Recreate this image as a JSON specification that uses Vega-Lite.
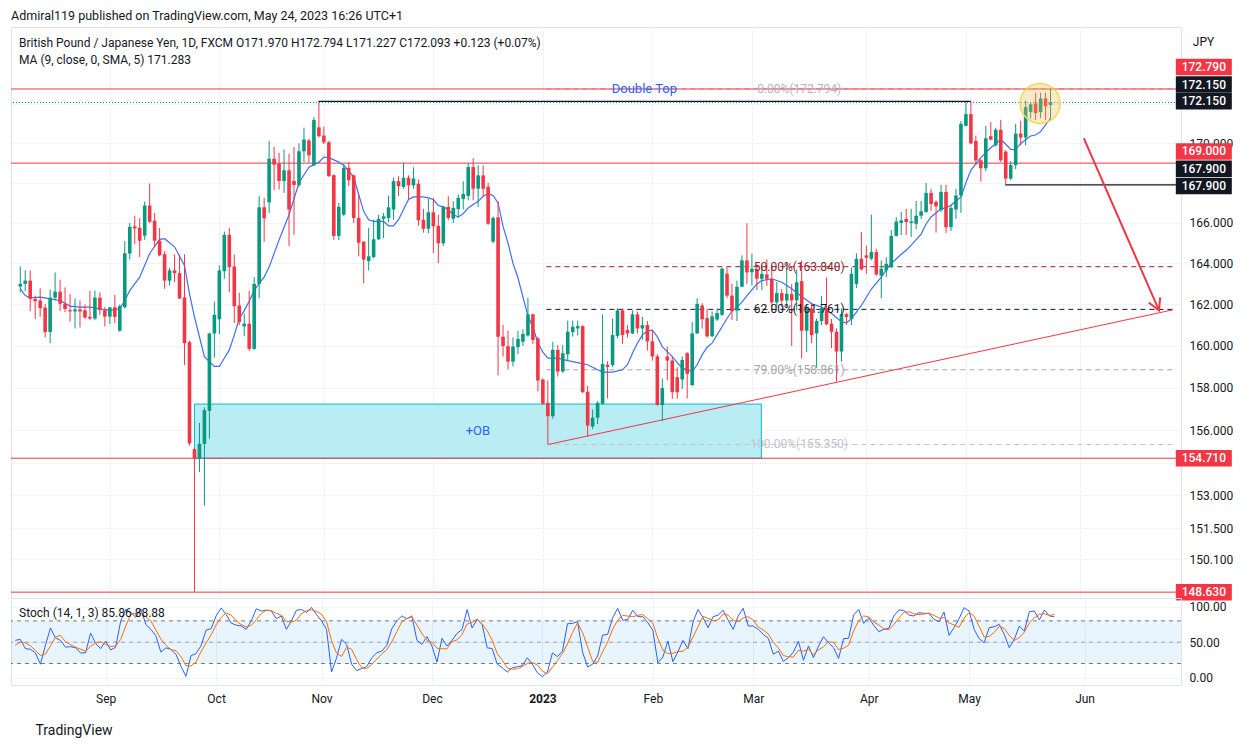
{
  "$schema": "https://vega.github.io/schema/vega-lite/v6.json",
  "background": "white",
  "padding": {"left": 10, "top": 10, "right": 10, "bottom": 4},
  "title": {
    "text": "Admiral119 published on TradingView.com, May 24, 2023 16:26 UTC+1",
    "anchor": "start", "frame": "group", "fontSize": 12.5, "fontWeight": "normal",
    "color": "#131722", "offset": 4
  },
  "spacing": 0,
  "bounds": "flush",
  "datasets": {
    "bars": [
      {"i":1,"t":"2022-08-08","o":162.87,"h":163.85,"l":162.59,"c":163.0,"sk":52.6,"sd":46},
      {"i":2,"t":"2022-08-09","o":163.0,"h":163.66,"l":162.64,"c":163.16,"sk":54,"sd":50},
      {"i":3,"t":"2022-08-10","o":163.16,"h":163.66,"l":161.68,"c":162.27,"sk":41,"sd":49.2},
      {"i":4,"t":"2022-08-11","o":162.27,"h":162.43,"l":161.3,"c":162.16,"sk":40,"sd":45},
      {"i":5,"t":"2022-08-12","o":162.19,"h":162.78,"l":161.4,"c":161.82,"sk":35,"sd":38.7},
      {"i":6,"t":"2022-08-15","o":161.85,"h":162.03,"l":160.4,"c":160.67,"sk":19,"sd":31.3},
      {"i":7,"t":"2022-08-16","o":160.67,"h":162.72,"l":160.13,"c":162.33,"sk":45.5,"sd":33.2},
      {"i":8,"t":"2022-08-17","o":162.33,"h":163.56,"l":162.19,"c":162.62,"sk":70,"sd":44.8},
      {"i":9,"t":"2022-08-18","o":162.62,"h":163.2,"l":161.68,"c":162.03,"sk":56,"sd":57.2},
      {"i":10,"t":"2022-08-19","o":162.03,"h":162.83,"l":161.63,"c":161.78,"sk":52.6,"sd":59.5},
      {"i":11,"t":"2022-08-22","o":161.72,"h":162.5,"l":161.16,"c":161.66,"sk":43,"sd":50.5},
      {"i":12,"t":"2022-08-23","o":161.66,"h":162.3,"l":160.84,"c":161.76,"sk":43.7,"sd":46.4},
      {"i":13,"t":"2022-08-24","o":161.76,"h":162.19,"l":160.89,"c":161.66,"sk":42,"sd":42.9},
      {"i":14,"t":"2022-08-25","o":161.72,"h":162.0,"l":161.3,"c":161.37,"sk":35,"sd":40.2},
      {"i":15,"t":"2022-08-26","o":161.4,"h":162.67,"l":161.24,"c":161.32,"sk":35,"sd":37.3},
      {"i":16,"t":"2022-08-29","o":161.32,"h":162.67,"l":161.24,"c":162.33,"sk":63,"sd":44.3},
      {"i":17,"t":"2022-08-30","o":162.33,"h":162.59,"l":161.49,"c":161.72,"sk":48,"sd":48.7},
      {"i":18,"t":"2022-08-31","o":161.72,"h":161.87,"l":160.94,"c":161.41,"sk":41,"sd":50.7},
      {"i":19,"t":"2022-09-01","o":161.41,"h":161.87,"l":161.05,"c":161.86,"sk":51.6,"sd":46.9},
      {"i":20,"t":"2022-09-02","o":161.86,"h":162.46,"l":161.1,"c":161.4,"sk":39,"sd":43.9},
      {"i":21,"t":"2022-09-05","o":160.73,"h":162.0,"l":160.68,"c":161.92,"sk":43,"sd":44.5},
      {"i":22,"t":"2022-09-06","o":161.87,"h":165.1,"l":161.8,"c":164.5,"sk":80,"sd":54},
      {"i":23,"t":"2022-09-07","o":164.49,"h":166.0,"l":164.2,"c":165.81,"sk":96,"sd":73},
      {"i":24,"t":"2022-09-08","o":165.83,"h":166.36,"l":164.94,"c":165.73,"sk":92,"sd":89.3},
      {"i":25,"t":"2022-09-09","o":165.76,"h":166.24,"l":164.32,"c":165.12,"sk":85,"sd":91},
      {"i":26,"t":"2022-09-12","o":165.37,"h":167.07,"l":165.16,"c":166.87,"sk":97,"sd":91.3},
      {"i":27,"t":"2022-09-13","o":166.87,"h":167.97,"l":166.0,"c":166.06,"sk":75,"sd":85.7},
      {"i":28,"t":"2022-09-14","o":166.11,"h":166.5,"l":164.8,"c":165.12,"sk":68,"sd":80},
      {"i":29,"t":"2022-09-15","o":165.12,"h":165.75,"l":164.35,"c":164.4,"sk":59,"sd":67.3},
      {"i":30,"t":"2022-09-16","o":164.45,"h":164.6,"l":162.76,"c":163.16,"sk":36,"sd":54.3},
      {"i":31,"t":"2022-09-19","o":163.16,"h":163.79,"l":162.92,"c":163.66,"sk":42,"sd":45.7},
      {"i":32,"t":"2022-09-20","o":163.66,"h":164.45,"l":163.08,"c":163.52,"sk":40,"sd":39.3},
      {"i":33,"t":"2022-09-21","o":163.52,"h":164.44,"l":162.26,"c":162.29,"sk":33,"sd":38.3},
      {"i":34,"t":"2022-09-22","o":162.34,"h":164.45,"l":159.09,"c":160.13,"sk":16,"sd":29.7},
      {"i":35,"t":"2022-09-23","o":160.18,"h":160.25,"l":155.3,"c":155.4,"sk":2,"sd":17},
      {"i":36,"t":"2022-09-26","o":155.13,"h":155.2,"l":148.63,"c":154.71,"sk":31,"sd":16.3},
      {"i":37,"t":"2022-09-27","o":154.71,"h":156.36,"l":154.07,"c":155.38,"sk":34,"sd":22.3},
      {"i":38,"t":"2022-09-28","o":155.38,"h":157.08,"l":152.53,"c":156.95,"sk":45,"sd":36.7},
      {"i":39,"t":"2022-09-29","o":156.92,"h":160.63,"l":155.61,"c":160.6,"sk":67,"sd":48.7},
      {"i":40,"t":"2022-09-30","o":160.6,"h":162.14,"l":159.44,"c":161.5,"sk":69,"sd":60.3},
      {"i":41,"t":"2022-10-03","o":161.28,"h":163.9,"l":160.57,"c":163.66,"sk":87,"sd":74.3},
      {"i":42,"t":"2022-10-04","o":163.62,"h":165.57,"l":163.25,"c":165.41,"sk":98,"sd":84.7},
      {"i":43,"t":"2022-10-05","o":165.41,"h":165.75,"l":162.59,"c":163.82,"sk":89,"sd":91.3},
      {"i":44,"t":"2022-10-06","o":163.85,"h":164.44,"l":161.1,"c":161.92,"sk":77,"sd":88},
      {"i":45,"t":"2022-10-07","o":161.95,"h":162.57,"l":161.0,"c":161.15,"sk":74,"sd":80},
      {"i":46,"t":"2022-10-10","o":160.94,"h":161.56,"l":160.48,"c":161.07,"sk":73,"sd":74.7},
      {"i":47,"t":"2022-10-11","o":161.07,"h":162.67,"l":159.76,"c":159.86,"sk":68,"sd":71.7},
      {"i":48,"t":"2022-10-12","o":159.86,"h":163.33,"l":159.81,"c":163.0,"sk":80,"sd":73.7},
      {"i":49,"t":"2022-10-13","o":163.0,"h":167.34,"l":162.3,"c":166.78,"sk":97,"sd":81.7},
      {"i":50,"t":"2022-10-14","o":166.78,"h":167.25,"l":165.07,"c":166.23,"sk":94,"sd":90.3},
      {"i":51,"t":"2022-10-17","o":167.03,"h":170.12,"l":166.5,"c":169.22,"sk":95,"sd":95.3},
      {"i":52,"t":"2022-10-18","o":169.22,"h":169.82,"l":167.64,"c":168.92,"sk":94,"sd":94.3},
      {"i":53,"t":"2022-10-19","o":168.97,"h":169.52,"l":167.67,"c":168.1,"sk":83,"sd":90.7},
      {"i":54,"t":"2022-10-20","o":168.1,"h":169.69,"l":167.5,"c":168.64,"sk":87,"sd":88},
      {"i":55,"t":"2022-10-21","o":168.64,"h":169.48,"l":164.86,"c":166.67,"sk":68,"sd":79.3},
      {"i":56,"t":"2022-10-24","o":168.1,"h":169.82,"l":165.41,"c":167.9,"sk":80,"sd":78.3},
      {"i":57,"t":"2022-10-25","o":167.9,"h":170.0,"l":167.8,"c":169.6,"sk":95,"sd":81},
      {"i":58,"t":"2022-10-26","o":169.6,"h":170.8,"l":169.05,"c":170.2,"sk":96,"sd":90.3},
      {"i":59,"t":"2022-10-27","o":170.15,"h":170.24,"l":169.02,"c":169.4,"sk":92,"sd":94.3},
      {"i":60,"t":"2022-10-28","o":168.9,"h":171.34,"l":168.85,"c":171.2,"sk":99,"sd":95.7},
      {"i":61,"t":"2022-10-31","o":170.82,"h":172.11,"l":170.3,"c":170.37,"sk":89,"sd":93.3},
      {"i":62,"t":"2022-11-01","o":170.4,"h":170.86,"l":169.97,"c":170.06,"sk":80,"sd":89.3},
      {"i":63,"t":"2022-11-02","o":170.06,"h":170.13,"l":168.31,"c":168.34,"sk":68,"sd":79},
      {"i":64,"t":"2022-11-03","o":168.39,"h":168.44,"l":165.16,"c":165.36,"sk":8,"sd":52},
      {"i":65,"t":"2022-11-04","o":165.36,"h":167.0,"l":165.16,"c":166.8,"sk":28,"sd":34.7},
      {"i":66,"t":"2022-11-07","o":166.41,"h":168.92,"l":166.35,"c":168.76,"sk":54,"sd":30},
      {"i":67,"t":"2022-11-08","o":168.76,"h":169.06,"l":167.84,"c":168.14,"sk":47,"sd":43},
      {"i":68,"t":"2022-11-09","o":168.38,"h":168.43,"l":166.0,"c":166.25,"sk":19,"sd":40},
      {"i":69,"t":"2022-11-10","o":166.25,"h":167.38,"l":164.35,"c":165.02,"sk":10,"sd":25.3},
      {"i":70,"t":"2022-11-11","o":165.07,"h":165.1,"l":163.03,"c":164.19,"sk":13,"sd":14},
      {"i":71,"t":"2022-11-14","o":164.12,"h":165.75,"l":163.66,"c":164.35,"sk":15.5,"sd":12.8},
      {"i":72,"t":"2022-11-15","o":164.32,"h":166.16,"l":164.25,"c":165.19,"sk":28,"sd":18.8},
      {"i":73,"t":"2022-11-16","o":165.19,"h":166.41,"l":165.16,"c":166.21,"sk":35,"sd":26.2},
      {"i":74,"t":"2022-11-17","o":166.21,"h":166.5,"l":165.24,"c":166.33,"sk":37.5,"sd":33.5},
      {"i":75,"t":"2022-11-18","o":166.25,"h":167.37,"l":166.03,"c":166.78,"sk":45.5,"sd":39.3},
      {"i":76,"t":"2022-11-21","o":166.67,"h":168.26,"l":166.16,"c":168.09,"sk":69,"sd":50.7},
      {"i":77,"t":"2022-11-22","o":168.09,"h":168.34,"l":167.34,"c":167.84,"sk":80,"sd":64.8},
      {"i":78,"t":"2022-11-23","o":167.8,"h":169.02,"l":167.71,"c":168.26,"sk":87,"sd":78.7},
      {"i":79,"t":"2022-11-24","o":168.26,"h":168.38,"l":167.2,"c":167.88,"sk":83,"sd":83.3},
      {"i":80,"t":"2022-11-25","o":167.88,"h":168.79,"l":167.71,"c":168.22,"sk":87,"sd":85.7},
      {"i":81,"t":"2022-11-28","o":167.96,"h":168.17,"l":165.86,"c":166.13,"sk":52.6,"sd":74.2},
      {"i":82,"t":"2022-11-29","o":166.16,"h":166.7,"l":165.52,"c":165.71,"sk":47,"sd":62.2},
      {"i":83,"t":"2022-11-30","o":165.71,"h":167.2,"l":165.49,"c":166.53,"sk":58,"sd":52.5},
      {"i":84,"t":"2022-12-01","o":166.53,"h":167.25,"l":164.52,"c":165.83,"sk":44.6,"sd":49.9},
      {"i":85,"t":"2022-12-02","o":165.86,"h":166.41,"l":164.02,"c":164.99,"sk":22,"sd":41.5},
      {"i":86,"t":"2022-12-05","o":164.99,"h":166.83,"l":164.86,"c":166.8,"sk":55.4,"sd":40.7},
      {"i":87,"t":"2022-12-06","o":166.8,"h":167.34,"l":166.13,"c":166.25,"sk":44.6,"sd":40.7},
      {"i":88,"t":"2022-12-07","o":166.21,"h":167.08,"l":166.0,"c":166.75,"sk":52.6,"sd":50.9},
      {"i":89,"t":"2022-12-08","o":166.7,"h":167.42,"l":166.25,"c":167.25,"sk":62.4,"sd":53.2},
      {"i":90,"t":"2022-12-09","o":167.2,"h":168.09,"l":166.67,"c":167.45,"sk":68,"sd":61},
      {"i":91,"t":"2022-12-12","o":167.35,"h":169.02,"l":167.13,"c":168.8,"sk":96,"sd":75.5},
      {"i":92,"t":"2022-12-13","o":168.8,"h":169.25,"l":167.13,"c":167.71,"sk":70,"sd":78},
      {"i":93,"t":"2022-12-14","o":167.71,"h":168.88,"l":166.8,"c":168.38,"sk":82,"sd":82.7},
      {"i":94,"t":"2022-12-15","o":168.38,"h":168.88,"l":167.34,"c":167.71,"sk":75,"sd":75.7},
      {"i":95,"t":"2022-12-16","o":167.81,"h":168.01,"l":165.9,"c":165.96,"sk":42,"sd":66.3},
      {"i":96,"t":"2022-12-19","o":165.07,"h":166.33,"l":165.0,"c":166.25,"sk":41,"sd":52.7},
      {"i":97,"t":"2022-12-20","o":166.28,"h":167.08,"l":158.6,"c":160.44,"sk":19,"sd":34},
      {"i":98,"t":"2022-12-21","o":160.44,"h":161.01,"l":159.49,"c":159.99,"sk":14,"sd":24.7},
      {"i":99,"t":"2022-12-22","o":159.99,"h":160.73,"l":158.87,"c":159.25,"sk":8,"sd":13.7},
      {"i":100,"t":"2022-12-23","o":159.25,"h":160.41,"l":159.02,"c":159.97,"sk":14,"sd":12},
      {"i":101,"t":"2022-12-26","o":159.94,"h":160.73,"l":159.6,"c":160.34,"sk":15.5,"sd":12.5},
      {"i":102,"t":"2022-12-27","o":160.2,"h":160.8,"l":160.0,"c":160.57,"sk":17,"sd":15.5},
      {"i":103,"t":"2022-12-28","o":160.5,"h":162.32,"l":160.45,"c":161.52,"sk":28,"sd":20.2},
      {"i":104,"t":"2022-12-29","o":161.52,"h":161.55,"l":160.1,"c":160.29,"sk":19,"sd":21.3},
      {"i":105,"t":"2022-12-30","o":160.36,"h":160.44,"l":157.84,"c":158.35,"sk":7,"sd":18},
      {"i":106,"t":"2023-01-02","o":158.4,"h":158.45,"l":157.2,"c":157.25,"sk":1.4,"sd":9.1},
      {"i":107,"t":"2023-01-03","o":157.3,"h":158.35,"l":155.35,"c":156.67,"sk":8,"sd":5.5},
      {"i":108,"t":"2023-01-04","o":156.67,"h":160.2,"l":156.55,"c":159.81,"sk":35,"sd":14.8},
      {"i":109,"t":"2023-01-05","o":159.81,"h":160.04,"l":158.54,"c":158.78,"sk":29.6,"sd":24.2},
      {"i":110,"t":"2023-01-06","o":158.78,"h":160.04,"l":158.7,"c":159.65,"sk":37.5,"sd":34},
      {"i":111,"t":"2023-01-09","o":159.6,"h":161.22,"l":159.28,"c":160.68,"sk":76,"sd":47.7},
      {"i":112,"t":"2023-01-10","o":160.66,"h":161.22,"l":160.45,"c":160.92,"sk":76.5,"sd":63.3},
      {"i":113,"t":"2023-01-11","o":160.84,"h":161.22,"l":160.5,"c":160.95,"sk":79,"sd":77.2},
      {"i":114,"t":"2023-01-12","o":160.95,"h":161.0,"l":157.75,"c":157.8,"sk":36,"sd":63.8},
      {"i":115,"t":"2023-01-13","o":157.82,"h":158.1,"l":155.7,"c":156.23,"sk":15,"sd":43.3},
      {"i":116,"t":"2023-01-16","o":156.19,"h":156.98,"l":156.07,"c":156.6,"sk":19,"sd":23.3},
      {"i":117,"t":"2023-01-17","o":156.6,"h":157.38,"l":156.3,"c":157.3,"sk":30.5,"sd":21.5},
      {"i":118,"t":"2023-01-18","o":157.25,"h":161.52,"l":157.2,"c":159.14,"sk":60,"sd":36.5},
      {"i":119,"t":"2023-01-19","o":159.1,"h":159.27,"l":157.5,"c":159.0,"sk":61,"sd":50.5},
      {"i":120,"t":"2023-01-20","o":159.09,"h":161.32,"l":159.0,"c":160.52,"sk":84.5,"sd":68.5},
      {"i":121,"t":"2023-01-23","o":160.48,"h":161.82,"l":160.36,"c":161.71,"sk":97.7,"sd":81.1},
      {"i":122,"t":"2023-01-24","o":161.71,"h":161.8,"l":160.1,"c":160.52,"sk":80.8,"sd":87.7},
      {"i":123,"t":"2023-01-25","o":160.76,"h":161.0,"l":160.4,"c":160.6,"sk":82,"sd":86.8},
      {"i":124,"t":"2023-01-26","o":160.6,"h":161.71,"l":160.57,"c":161.52,"sk":95,"sd":85.9},
      {"i":125,"t":"2023-01-27","o":161.52,"h":161.65,"l":160.6,"c":160.84,"sk":86,"sd":87.7},
      {"i":126,"t":"2023-01-30","o":160.84,"h":161.4,"l":160.3,"c":161.0,"sk":86,"sd":89},
      {"i":127,"t":"2023-01-31","o":161.0,"h":161.2,"l":159.78,"c":160.22,"sk":77.5,"sd":83.2},
      {"i":128,"t":"2023-02-01","o":160.22,"h":160.76,"l":159.3,"c":159.5,"sk":66.7,"sd":76.7},
      {"i":129,"t":"2023-02-02","o":159.5,"h":159.6,"l":157.16,"c":157.2,"sk":21,"sd":55.1},
      {"i":130,"t":"2023-02-03","o":157.2,"h":158.45,"l":156.43,"c":157.99,"sk":29,"sd":38.9},
      {"i":131,"t":"2023-02-06","o":159.5,"h":159.97,"l":158.36,"c":159.3,"sk":51.6,"sd":33.9},
      {"i":132,"t":"2023-02-07","o":159.3,"h":159.5,"l":157.48,"c":157.8,"sk":22.5,"sd":34.4},
      {"i":133,"t":"2023-02-08","o":158.51,"h":158.98,"l":157.5,"c":157.8,"sk":36.6,"sd":36.9},
      {"i":134,"t":"2023-02-09","o":158.4,"h":159.5,"l":157.95,"c":159.33,"sk":52.6,"sd":37.2},
      {"i":135,"t":"2023-02-10","o":159.65,"h":159.7,"l":157.5,"c":158.67,"sk":40.8,"sd":43.3},
      {"i":136,"t":"2023-02-13","o":158.13,"h":161.15,"l":158.1,"c":160.6,"sk":78.4,"sd":57.3},
      {"i":137,"t":"2023-02-14","o":160.6,"h":162.3,"l":160.57,"c":162.03,"sk":96,"sd":71.7},
      {"i":138,"t":"2023-02-15","o":161.95,"h":162.06,"l":160.84,"c":161.28,"sk":84.5,"sd":86.3},
      {"i":139,"t":"2023-02-16","o":161.34,"h":161.8,"l":160.4,"c":160.46,"sk":70.4,"sd":83.6},
      {"i":140,"t":"2023-02-17","o":160.47,"h":161.66,"l":160.42,"c":161.42,"sk":86,"sd":80.3},
      {"i":141,"t":"2023-02-20","o":161.27,"h":161.8,"l":161.2,"c":161.58,"sk":88,"sd":81.5},
      {"i":142,"t":"2023-02-21","o":161.5,"h":163.8,"l":161.45,"c":163.74,"sk":95,"sd":89.7},
      {"i":143,"t":"2023-02-22","o":163.5,"h":163.8,"l":162.3,"c":162.43,"sk":81,"sd":88},
      {"i":144,"t":"2023-02-23","o":162.43,"h":163.0,"l":161.24,"c":161.68,"sk":68,"sd":81.3},
      {"i":145,"t":"2023-02-24","o":161.7,"h":163.16,"l":161.2,"c":162.86,"sk":87,"sd":78.7},
      {"i":146,"t":"2023-02-27","o":162.86,"h":164.4,"l":162.84,"c":164.15,"sk":97.7,"sd":84.2},
      {"i":147,"t":"2023-02-28","o":164.15,"h":165.98,"l":163.0,"c":163.56,"sk":72.8,"sd":85.8},
      {"i":148,"t":"2023-03-01","o":163.57,"h":164.48,"l":162.92,"c":163.74,"sk":72.8,"sd":81.1},
      {"i":149,"t":"2023-03-02","o":163.7,"h":163.95,"l":162.7,"c":163.25,"sk":68,"sd":71.2},
      {"i":150,"t":"2023-03-03","o":163.25,"h":163.9,"l":162.7,"c":163.49,"sk":61,"sd":67.3},
      {"i":151,"t":"2023-03-06","o":163.46,"h":164.2,"l":162.9,"c":163.25,"sk":55.4,"sd":61.5},
      {"i":152,"t":"2023-03-07","o":163.25,"h":163.82,"l":161.87,"c":162.1,"sk":33,"sd":49.8},
      {"i":153,"t":"2023-03-08","o":162.1,"h":163.1,"l":161.9,"c":162.55,"sk":37.5,"sd":42},
      {"i":154,"t":"2023-03-09","o":162.55,"h":162.75,"l":161.87,"c":162.19,"sk":23,"sd":31.2},
      {"i":155,"t":"2023-03-10","o":162.19,"h":164.06,"l":161.87,"c":162.52,"sk":28,"sd":29.5},
      {"i":156,"t":"2023-03-13","o":162.5,"h":163.0,"l":160.0,"c":162.2,"sk":36,"sd":29},
      {"i":157,"t":"2023-03-14","o":162.2,"h":163.7,"l":161.7,"c":163.08,"sk":51.6,"sd":38.5},
      {"i":158,"t":"2023-03-15","o":163.13,"h":164.15,"l":159.4,"c":160.73,"sk":24.4,"sd":37.3},
      {"i":159,"t":"2023-03-16","o":160.73,"h":162.03,"l":159.7,"c":161.8,"sk":44.6,"sd":40.2},
      {"i":160,"t":"2023-03-17","o":161.8,"h":162.1,"l":160.13,"c":160.52,"sk":28,"sd":32.3},
      {"i":161,"t":"2023-03-20","o":160.6,"h":161.32,"l":158.94,"c":161.2,"sk":44.6,"sd":39.1},
      {"i":162,"t":"2023-03-21","o":161.2,"h":162.4,"l":161.0,"c":161.82,"sk":57.7,"sd":43.4},
      {"i":163,"t":"2023-03-22","o":161.82,"h":163.32,"l":161.0,"c":161.04,"sk":49.3,"sd":50.5},
      {"i":164,"t":"2023-03-23","o":161.07,"h":161.3,"l":159.9,"c":160.68,"sk":42.3,"sd":49.8},
      {"i":165,"t":"2023-03-24","o":160.68,"h":160.84,"l":158.3,"c":159.73,"sk":27.2,"sd":39.6},
      {"i":166,"t":"2023-03-27","o":159.73,"h":161.8,"l":159.25,"c":161.53,"sk":55,"sd":41.5},
      {"i":167,"t":"2023-03-28","o":161.53,"h":161.6,"l":161.0,"c":161.4,"sk":55.4,"sd":45.9},
      {"i":168,"t":"2023-03-29","o":161.3,"h":163.8,"l":161.0,"c":163.49,"sk":88.3,"sd":66.2},
      {"i":169,"t":"2023-03-30","o":163.0,"h":164.5,"l":162.8,"c":164.23,"sk":96.2,"sd":80},
      {"i":170,"t":"2023-03-31","o":164.23,"h":165.55,"l":163.66,"c":163.71,"sk":76.5,"sd":87},
      {"i":171,"t":"2023-04-03","o":164.4,"h":164.88,"l":163.5,"c":164.28,"sk":84.5,"sd":85.7},
      {"i":172,"t":"2023-04-04","o":164.23,"h":166.41,"l":164.15,"c":164.56,"sk":73.7,"sd":78.2},
      {"i":173,"t":"2023-04-05","o":164.56,"h":164.72,"l":163.4,"c":163.46,"sk":64.8,"sd":74.3},
      {"i":174,"t":"2023-04-06","o":163.4,"h":164.15,"l":162.3,"c":163.74,"sk":68,"sd":68.8},
      {"i":175,"t":"2023-04-07","o":163.66,"h":164.3,"l":163.33,"c":163.98,"sk":69.5,"sd":67.4},
      {"i":176,"t":"2023-04-10","o":163.82,"h":165.65,"l":163.79,"c":165.36,"sk":86.9,"sd":74.8},
      {"i":177,"t":"2023-04-11","o":165.36,"h":166.28,"l":165.33,"c":166.07,"sk":95.3,"sd":83.9},
      {"i":178,"t":"2023-04-12","o":166.0,"h":166.55,"l":165.4,"c":166.13,"sk":94.8,"sd":92.3},
      {"i":179,"t":"2023-04-13","o":166.2,"h":166.7,"l":165.4,"c":166.05,"sk":88.3,"sd":92.8},
      {"i":180,"t":"2023-04-14","o":166.0,"h":166.7,"l":165.3,"c":166.07,"sk":86.9,"sd":90},
      {"i":181,"t":"2023-04-17","o":165.96,"h":167.1,"l":165.7,"c":166.36,"sk":91.6,"sd":88.9},
      {"i":182,"t":"2023-04-18","o":166.36,"h":167.1,"l":166.2,"c":166.58,"sk":90.6,"sd":89.7},
      {"i":183,"t":"2023-04-19","o":166.55,"h":168.0,"l":166.5,"c":167.5,"sk":90.6,"sd":90.9},
      {"i":184,"t":"2023-04-20","o":167.5,"h":167.7,"l":166.6,"c":166.95,"sk":82.2,"sd":87.8},
      {"i":185,"t":"2023-04-21","o":167.05,"h":167.12,"l":165.52,"c":166.83,"sk":78.9,"sd":83.9},
      {"i":186,"t":"2023-04-24","o":166.64,"h":167.9,"l":166.55,"c":167.55,"sk":92.5,"sd":84.5},
      {"i":187,"t":"2023-04-25","o":167.55,"h":167.9,"l":165.5,"c":165.79,"sk":59.6,"sd":77},
      {"i":188,"t":"2023-04-26","o":165.79,"h":166.9,"l":165.6,"c":166.75,"sk":70.4,"sd":74.2},
      {"i":189,"t":"2023-04-27","o":166.67,"h":167.7,"l":166.2,"c":167.37,"sk":83.1,"sd":71},
      {"i":190,"t":"2023-04-28","o":167.37,"h":171.15,"l":166.5,"c":171.0,"sk":98.6,"sd":84},
      {"i":191,"t":"2023-05-01","o":170.9,"h":172.12,"l":170.87,"c":171.5,"sk":93.9,"sd":91.9},
      {"i":192,"t":"2023-05-02","o":171.5,"h":172.12,"l":169.95,"c":170.0,"sk":68,"sd":86.8},
      {"i":193,"t":"2023-05-03","o":170.13,"h":170.4,"l":168.9,"c":169.14,"sk":55,"sd":72.3},
      {"i":194,"t":"2023-05-04","o":169.14,"h":169.2,"l":168.07,"c":168.74,"sk":49.3,"sd":57.4},
      {"i":195,"t":"2023-05-05","o":168.74,"h":170.9,"l":168.6,"c":170.26,"sk":70.4,"sd":58.2},
      {"i":196,"t":"2023-05-08","o":170.37,"h":171.1,"l":170.15,"c":170.2,"sk":71.8,"sd":63.8},
      {"i":197,"t":"2023-05-09","o":169.9,"h":170.8,"l":169.85,"c":170.7,"sk":75.1,"sd":72.4},
      {"i":198,"t":"2023-05-10","o":170.7,"h":171.2,"l":169.06,"c":169.14,"sk":61,"sd":69.3},
      {"i":199,"t":"2023-05-11","o":169.58,"h":169.66,"l":167.9,"c":168.22,"sk":42.3,"sd":59.5},
      {"i":200,"t":"2023-05-12","o":168.22,"h":169.1,"l":168.15,"c":168.9,"sk":54,"sd":52.4},
      {"i":201,"t":"2023-05-15","o":168.9,"h":171.0,"l":168.7,"c":170.5,"sk":72.8,"sd":56.4},
      {"i":202,"t":"2023-05-16","o":170.5,"h":171.16,"l":169.9,"c":170.3,"sk":65.7,"sd":64.2},
      {"i":203,"t":"2023-05-17","o":170.3,"h":172.2,"l":169.9,"c":171.86,"sk":93,"sd":77.2},
      {"i":204,"t":"2023-05-18","o":171.6,"h":172.12,"l":171.27,"c":172.0,"sk":93.9,"sd":84.2},
      {"i":205,"t":"2023-05-19","o":172.05,"h":172.6,"l":171.2,"c":171.55,"sk":81.2,"sd":89.4},
      {"i":206,"t":"2023-05-22","o":171.6,"h":172.6,"l":171.3,"c":172.3,"sk":95.3,"sd":90.1},
      {"i":207,"t":"2023-05-23","o":172.3,"h":172.6,"l":171.2,"c":171.9,"sk":86.9,"sd":87.8},
      {"i":208,"t":"2023-05-24","o":171.97,"h":172.794,"l":171.227,"c":172.093,"sk":85.86,"sd":88.88}
    ],
    "ma": [
      {"i":1,"v":162.77},{"i":2,"v":162.43},{"i":3,"v":162.32},{"i":5,"v":162.35},{"i":7,"v":162.27},
      {"i":9,"v":162.19},{"i":11,"v":161.92},{"i":13,"v":161.87},{"i":15,"v":161.87},{"i":17,"v":161.79},
      {"i":19,"v":161.71},{"i":21,"v":161.79},{"i":22,"v":162.19},{"i":23,"v":162.67},{"i":25,"v":163.33},
      {"i":27,"v":164.49},{"i":29,"v":165.19},{"i":30,"v":165.22},{"i":32,"v":164.82},{"i":34,"v":163.9},
      {"i":35,"v":162.51},{"i":36,"v":161.4},{"i":37,"v":160.44},{"i":38,"v":159.49},{"i":40,"v":159.02},
      {"i":41,"v":159.02},{"i":42,"v":159.41},{"i":43,"v":159.81},{"i":44,"v":160.52},{"i":45,"v":161.32},
      {"i":46,"v":161.7},{"i":47,"v":162.15},{"i":48,"v":162.67},{"i":49,"v":163.03},{"i":50,"v":163.33},
      {"i":51,"v":163.82},{"i":53,"v":165.16},{"i":55,"v":166.41},{"i":57,"v":168.01},{"i":59,"v":168.8},
      {"i":61,"v":169.05},{"i":62,"v":169.31},{"i":63,"v":169.28},{"i":65,"v":169.05},{"i":66,"v":168.89},
      {"i":68,"v":168.3},{"i":69,"v":167.42},{"i":70,"v":166.58},{"i":71,"v":166.16},{"i":72,"v":166.08},
      {"i":74,"v":166.08},{"i":75,"v":165.86},{"i":76,"v":165.86},{"i":77,"v":166.16},{"i":78,"v":166.67},
      {"i":79,"v":167.17},{"i":80,"v":167.3},{"i":82,"v":167.3},{"i":83,"v":167.25},{"i":84,"v":167.17},
      {"i":85,"v":166.87},{"i":86,"v":166.8},{"i":87,"v":166.67},{"i":88,"v":166.41},{"i":89,"v":166.3},
      {"i":90,"v":166.46},{"i":91,"v":166.75},{"i":92,"v":166.92},{"i":93,"v":167.08},{"i":94,"v":167.33},
      {"i":95,"v":167.46},{"i":96,"v":167.37},{"i":97,"v":167.0},{"i":98,"v":165.83},{"i":99,"v":165.0},
      {"i":100,"v":164.0},{"i":101,"v":163.3},{"i":102,"v":162.35},{"i":103,"v":161.45},{"i":104,"v":160.9},
      {"i":105,"v":160.15},{"i":106,"v":159.7},{"i":107,"v":159.42},{"i":109,"v":159.42},{"i":111,"v":159.3},
      {"i":113,"v":159.2},{"i":115,"v":159.1},{"i":117,"v":158.86},{"i":118,"v":158.75},{"i":120,"v":158.75},
      {"i":122,"v":158.86},{"i":123,"v":159.1},{"i":124,"v":159.65},{"i":125,"v":160.13},{"i":126,"v":160.53},
      {"i":127,"v":160.73},{"i":128,"v":160.76},{"i":129,"v":160.44},{"i":130,"v":159.97},{"i":131,"v":159.73},
      {"i":132,"v":159.49},{"i":133,"v":159.2},{"i":134,"v":158.94},{"i":136,"v":158.78},{"i":137,"v":159.1},
      {"i":138,"v":159.57},{"i":139,"v":159.94},{"i":140,"v":160.13},{"i":141,"v":160.53},{"i":142,"v":160.92},
      {"i":143,"v":161.32},{"i":144,"v":161.68},{"i":145,"v":161.87},{"i":146,"v":162.11},{"i":147,"v":162.43},
      {"i":148,"v":162.71},{"i":149,"v":163.0},{"i":150,"v":163.16},{"i":152,"v":163.25},{"i":154,"v":163.08},
      {"i":156,"v":162.76},{"i":158,"v":162.38},{"i":160,"v":162.03},{"i":162,"v":161.87},{"i":164,"v":161.56},
      {"i":166,"v":161.16},{"i":167,"v":161.11},{"i":168,"v":161.3},{"i":170,"v":161.95},{"i":171,"v":162.35},
      {"i":172,"v":162.75},{"i":174,"v":163.33},{"i":175,"v":163.7},{"i":176,"v":164.0},{"i":178,"v":164.45},
      {"i":179,"v":164.65},{"i":180,"v":164.9},{"i":182,"v":165.45},{"i":183,"v":165.95},{"i":184,"v":166.3},
      {"i":186,"v":166.7},{"i":187,"v":166.75},{"i":188,"v":166.88},{"i":190,"v":167.3},{"i":191,"v":168.01},
      {"i":192,"v":168.65},{"i":194,"v":169.28},{"i":196,"v":169.78},{"i":198,"v":170.2},{"i":199,"v":169.96},
      {"i":200,"v":169.7},{"i":201,"v":169.69},{"i":202,"v":170.0},{"i":204,"v":170.38},{"i":205,"v":170.43},
      {"i":206,"v":170.6},{"i":207,"v":170.95},{"i":208,"v":171.283}
    ],
    "levels": [{"p":172.794},{"p":169.0},{"p":154.71},{"p":148.63}],
    "fib": [
      {"lvl":"0","p":172.794,"label":"0.00%(172.794)"},
      {"lvl":"0.5","p":163.84,"label":"50.00%(163.840)"},
      {"lvl":"0.62","p":161.761,"label":"62.00%(161.761)"},
      {"lvl":"0.79","p":158.861,"label":"79.00%(158.861)"},
      {"lvl":"1","p":155.35,"label":"100.00%(155.350)"}
    ],
    "segs": [
      {"name":"Double Top","i":60.9,"i2":192.0,"p":172.15},
      {"name":"May low","i":198.9,"i2":233.21,"p":167.9}
    ],
    "zones": [{"name":"+OB","i":36.0,"i2":149.9,"lo":154.71,"hi":157.24}],
    "trend": [{"i":107.1,"p":155.35},{"i":232.6,"p":161.74}],
    "arrow": [{"i":214.7,"p":170.26},{"i":229.8,"p":161.71}],
    "spot": [{"i":205.9,"p":172.05}],
    "tags": [
      {"label":"172.790","at":173.93,"kind":"alert"},
      {"label":"172.150","at":173.02,"kind":"drawing"},
      {"label":"172.150","at":172.16,"kind":"drawing"},
      {"label":"169.000","at":169.59,"kind":"alert"},
      {"label":"167.900","at":168.72,"kind":"drawing"},
      {"label":"167.900","at":167.85,"kind":"drawing"},
      {"label":"154.710","at":154.71,"kind":"alert"},
      {"label":"148.630","at":148.63,"kind":"alert"}
    ],
    "bands": [{"hi":80,"lo":20}],
    "stochLevels": [{"v":80},{"v":50},{"v":20}]
  },
  "vconcat": [
    {
      "width": 1170,
      "height": 571,
      "title": {
        "text": "British Pound / Japanese Yen, 1D, FXCM   O171.970  H172.794  L171.227  C172.093  +0.123 (+0.07%)",
        "subtitle": "MA (9, close, 0, SMA, 5)   171.283",
        "anchor": "start", "frame": "group", "dx": 8, "offset": -40,
        "fontSize": 12, "fontWeight": "normal", "color": "#131722",
        "subtitleFontSize": 12, "subtitleColor": "#131722", "subtitlePadding": 5
      },
      "layer": [
        {
          "data": {"name": "zones"},
          "mark": {"type": "rect", "fill": "#b2ebf2", "fillOpacity": 0.9, "stroke": "#00bcd4", "strokeWidth": 1},
          "encoding": {
            "x": {"field": "i", "type": "quantitative",
                  "scale": {"domain": [0.1434, 233.21], "nice": false, "zero": false},
                  "axis": {"values": [19, 41, 62, 84, 106, 128, 148, 171, 191, 214], "labels": false, "grid": true, "title": null}},
            "x2": {"field": "i2"},
            "y": {"field": "lo", "type": "quantitative",
                  "scale": {"type": "log", "domain": [148.37, 176.03], "nice": false},
                  "axis": {"orient": "right", "values": [150.1, 151.5, 153, 154.5, 156, 158, 160, 162, 164, 166, 168, 170, 172],
                           "labelExpr": "indexof([154.5, 168, 172], datum.value) >= 0 ? '' : format(datum.value, '.3f')",
                           "labelPadding": 8, "title": "JPY", "titleAngle": 0, "titleX": 22, "titleY": 14,
                           "titleAlign": "center", "titleBaseline": "middle", "titleFontWeight": "normal", "titleFontSize": 12, "titleColor": "#131722"}},
            "y2": {"field": "hi"}
          }
        },
        {
          "data": {"name": "zones"},
          "mark": {"type": "text", "color": "#2962ff", "fontSize": 13},
          "encoding": {
            "x": {"datum": 92.95, "type": "quantitative"},
            "y": {"datum": 155.97, "type": "quantitative"},
            "text": {"field": "name"}
          }
        },
        {
          "data": {"name": "fib"},
          "mark": {"type": "rule", "strokeDash": [5, 4], "strokeWidth": 1},
          "encoding": {
            "x": {"datum": 106.7, "type": "quantitative"},
            "x2": {"datum": 233.21},
            "y": {"field": "p", "type": "quantitative"},
            "color": {"field": "lvl", "type": "nominal", "legend": null,
                      "scale": {"domain": ["0", "0.5", "0.62", "0.79", "1"], "range": ["#b2b5be", "#8e1c2b", "#131722", "#a3a6af", "#c0c3cb"]}}
          }
        },
        {
          "data": {"name": "levels"},
          "mark": {"type": "rule", "color": "#f23645", "strokeWidth": 1},
          "encoding": {"y": {"field": "p", "type": "quantitative"}}
        },
        {
          "data": {"values": [{"p": 172.093}]},
          "mark": {"type": "rule", "color": "#089981", "strokeDash": [1, 2], "strokeWidth": 1},
          "encoding": {"y": {"field": "p", "type": "quantitative"}}
        },
        {
          "data": {"name": "segs"},
          "mark": {"type": "rule", "color": "#131722", "strokeWidth": 1.2},
          "encoding": {
            "x": {"field": "i", "type": "quantitative"},
            "x2": {"field": "i2"},
            "y": {"field": "p", "type": "quantitative"}
          }
        },
        {
          "data": {"name": "trend"},
          "mark": {"type": "line", "color": "#f23645", "strokeWidth": 1},
          "encoding": {"x": {"field": "i", "type": "quantitative"}, "y": {"field": "p", "type": "quantitative"}}
        },
        {
          "data": {"name": "arrow"},
          "mark": {"type": "line", "color": "#f23645", "strokeWidth": 2},
          "encoding": {"x": {"field": "i", "type": "quantitative"}, "y": {"field": "p", "type": "quantitative"}}
        },
        {
          "data": {"name": "arrow"},
          "transform": [{"filter": "datum.i > 220"}],
          "mark": {"type": "point", "shape": "M-0.55,-1L0,0L0.55,-1", "size": 520, "filled": false,
                   "stroke": "#f23645", "strokeWidth": 2, "opacity": 1, "angle": 336.2},
          "encoding": {"x": {"field": "i", "type": "quantitative"}, "y": {"field": "p", "type": "quantitative"}}
        },
        {
          "data": {"name": "ma"},
          "mark": {"type": "line", "color": "#3d6ef7", "strokeWidth": 1.2},
          "encoding": {"x": {"field": "i", "type": "quantitative"}, "y": {"field": "v", "type": "quantitative"}}
        },
        {
          "data": {"name": "bars"},
          "mark": {"type": "rule", "strokeWidth": 1},
          "encoding": {
            "x": {"field": "i", "type": "quantitative"},
            "y": {"field": "l", "type": "quantitative"},
            "y2": {"field": "h"},
            "color": {"condition": {"test": "datum.c >= datum.o", "value": "#089981"}, "value": "#f23645"}
          }
        },
        {
          "data": {"name": "bars"},
          "mark": {"type": "bar", "width": 3.6},
          "encoding": {
            "x": {"field": "i", "type": "quantitative"},
            "y": {"field": "o", "type": "quantitative"},
            "y2": {"field": "c"},
            "color": {"condition": {"test": "datum.c >= datum.o", "value": "#089981"}, "value": "#f23645"}
          }
        },
        {
          "data": {"name": "spot"},
          "mark": {"type": "point", "shape": "circle", "size": 1600, "filled": true, "fill": "#ffb74d",
                   "fillOpacity": 0.3, "stroke": "#f5d84a", "strokeWidth": 1.5, "strokeOpacity": 1},
          "encoding": {"x": {"field": "i", "type": "quantitative"}, "y": {"field": "p", "type": "quantitative"}}
        },
        {
          "data": {"name": "fib"},
          "mark": {"type": "text", "fontSize": 12, "align": "center", "baseline": "middle"},
          "encoding": {
            "x": {"datum": 157.5, "type": "quantitative"},
            "y": {"field": "p", "type": "quantitative"},
            "text": {"field": "label"},
            "color": {"field": "lvl", "type": "nominal", "legend": null}
          }
        },
        {
          "data": {"name": "segs"},
          "transform": [{"filter": "datum.name == 'Double Top'"}],
          "mark": {"type": "text", "color": "#2962ff", "fontSize": 13, "baseline": "middle"},
          "encoding": {
            "x": {"datum": 126.4, "type": "quantitative"},
            "y": {"datum": 172.794, "type": "quantitative"},
            "text": {"field": "name"}
          }
        },
        {
          "data": {"name": "tags"},
          "mark": {"type": "point", "shape": "M-1,-0.2946H1V0.2946H-1Z", "size": 3136, "filled": true, "opacity": 1, "strokeWidth": 0},
          "encoding": {
            "x": {"datum": 238.8, "type": "quantitative"},
            "y": {"field": "at", "type": "quantitative"},
            "color": {"condition": {"test": "datum.kind == 'alert'", "value": "#f23645"}, "value": "#131722"}
          }
        },
        {
          "data": {"name": "tags"},
          "mark": {"type": "text", "color": "white", "fontSize": 12, "fontWeight": 500, "align": "center", "baseline": "middle"},
          "encoding": {
            "x": {"datum": 238.8, "type": "quantitative"},
            "y": {"field": "at", "type": "quantitative"},
            "text": {"field": "label"}
          }
        }
      ]
    },
    {
      "width": 1170,
      "height": 87,
      "title": {
        "text": "Stoch (14, 1, 3)   85.86   88.88",
        "anchor": "start", "frame": "group", "dx": 8, "offset": -22,
        "fontSize": 12, "fontWeight": "normal", "color": "#131722"
      },
      "layer": [
        {
          "data": {"name": "bands"},
          "mark": {"type": "rect", "color": "#2196f3", "opacity": 0.1},
          "encoding": {
            "x": {"datum": 0.1434, "type": "quantitative",
                  "scale": {"domain": [0.1434, 233.21], "nice": false, "zero": false},
                  "axis": {"values": [19, 41, 62, 84, 106, 128, 148, 171, 191, 214], "grid": true, "labelPadding": 8,
                           "labelExpr": "datum.value==19?'Sep':datum.value==41?'Oct':datum.value==62?'Nov':datum.value==84?'Dec':datum.value==106?'2023':datum.value==128?'Feb':datum.value==148?'Mar':datum.value==171?'Apr':datum.value==191?'May':'Jun'",
                           "labelFontWeight": {"condition": {"test": "datum.value == 106", "value": "bold"}, "value": "normal"},
                           "title": "TradingView", "titleAnchor": "start", "titleAlign": "left", "titleX": 24, "titlePadding": 19,
                           "titleFontSize": 14, "titleFontWeight": "normal", "titleColor": "#131722"}},
            "x2": {"datum": 233.21},
            "y": {"field": "hi", "type": "quantitative",
                  "scale": {"domain": [-10.3, 112.25], "nice": false, "zero": false},
                  "axis": {"orient": "right", "values": [0, 50, 100], "format": ".2f", "labelPadding": 8, "title": null}},
            "y2": {"field": "lo"}
          }
        },
        {
          "data": {"name": "stochLevels"},
          "mark": {"type": "rule", "strokeDash": [4, 4], "strokeWidth": 1},
          "encoding": {
            "y": {"field": "v", "type": "quantitative"},
            "color": {"condition": {"test": "datum.v == 50", "value": "#a3a6af"}, "value": "#787b86"}
          }
        },
        {
          "data": {"name": "bars"},
          "mark": {"type": "line", "color": "#2962ff", "strokeWidth": 1},
          "encoding": {"x": {"field": "i", "type": "quantitative"}, "y": {"field": "sk", "type": "quantitative"}}
        },
        {
          "data": {"name": "bars"},
          "mark": {"type": "line", "color": "#ff6d00", "strokeWidth": 1},
          "encoding": {"x": {"field": "i", "type": "quantitative"}, "y": {"field": "sd", "type": "quantitative"}}
        }
      ]
    }
  ],
  "config": {
    "font": "Roboto",
    "view": {"stroke": "#e0e3eb"},
    "axis": {"labelFont": "Roboto", "labelFontSize": 12, "labelColor": "#131722", "gridColor": "#f0f3fa",
             "domain": false, "ticks": false, "titleFont": "Roboto"},
    "title": {"font": "Roboto", "subtitleFont": "Roboto"},
    "text": {"font": "Roboto"}
  }
}
